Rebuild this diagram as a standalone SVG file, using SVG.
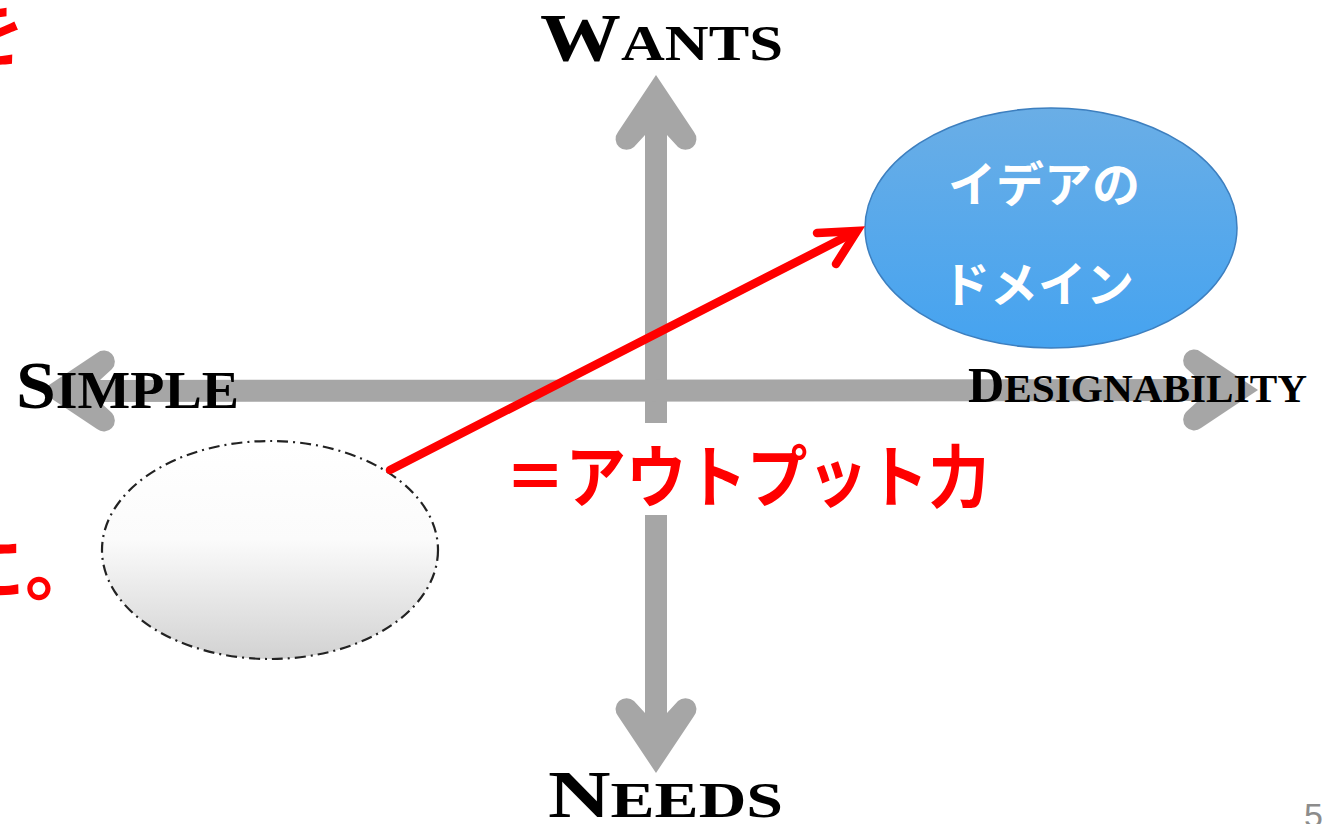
<svg xmlns="http://www.w3.org/2000/svg" width="1325" height="824" viewBox="0 0 1325 824">
  <style>
    .shaft { stroke: #a6a6a6; stroke-width: 22; fill: none; stroke-linecap: butt; }
    .head { fill: #a6a6a6; stroke: none; }
    .axis { font-family: "Liberation Serif", "DejaVu Serif", serif; font-weight: bold; fill: #000; }
    .jp { font-family: "Noto Sans CJK JP", "Noto Sans", sans-serif; font-weight: bold; }
    .red { fill: #ff0000; }
    .redline { stroke: #ff0000; stroke-width: 8.5; fill: none; stroke-linecap: round; stroke-linejoin: miter; }
  </style>
  <defs>
    <linearGradient id="gGray" x1="0" y1="0" x2="0" y2="1">
      <stop offset="0" stop-color="#ffffff"/>
      <stop offset="0.45" stop-color="#fbfbfb"/>
      <stop offset="1" stop-color="#d2d2d2"/>
    </linearGradient>
    <linearGradient id="gBlue" x1="0" y1="0" x2="0" y2="1">
      <stop offset="0" stop-color="#6aaee6"/>
      <stop offset="1" stop-color="#45a3f0"/>
    </linearGradient>
    <path id="ahead" class="head" d="M0,0 L38,57 A11,11 0 0 1 22,72 L11,60 L11,80 L-11,80 L-11,60 L-22,72 A11,11 0 0 1 -38,57 Z"/>
  </defs>

  <rect width="1325" height="824" fill="#ffffff"/>

  <!-- cropped side text -->
  <g id="side-text" class="jp red">
    <text x="-47" y="60" font-size="72">を</text>
    <text x="-47" y="594" font-size="72">に。</text>
  </g>

  <!-- axes -->
  <g id="connectors">
    <line class="shaft" x1="656" y1="140" x2="656" y2="423"/>
    <line class="shaft" x1="656" y1="515" x2="656" y2="708"/>
    <line class="shaft" x1="100" y1="391" x2="1200" y2="390"/>
    <use href="#ahead" transform="translate(656,75)"/>
    <use href="#ahead" transform="translate(656,773) rotate(180)"/>
    <use href="#ahead" transform="translate(40,391) rotate(-90)"/>
    <use href="#ahead" transform="translate(1258,390) rotate(90)"/>
  </g>

  <g id="node-gray">
    <ellipse cx="270" cy="550" rx="168" ry="109" fill="url(#gGray)" stroke="#222" stroke-width="2.2" stroke-dasharray="11 5 2 5"/>
  </g>

  <g id="node-blue">
    <ellipse cx="1051" cy="228" rx="186" ry="120" fill="url(#gBlue)" stroke="#3d7fbf" stroke-width="1.5"/>
    <text class="jp" x="1044" y="202" font-size="48" fill="#ffffff" text-anchor="middle">イデアの</text>
    <text class="jp" x="1038" y="302" font-size="48" fill="#ffffff" text-anchor="middle">ドメイン</text>
  </g>

  <g id="red-arrow">
    <line class="redline" x1="390" y1="470" x2="855" y2="232"/>
    <path class="redline" d="M817,233 L857,231 L836,264"/>
  </g>

  <g id="output-label">
    <text class="jp red" x="505" y="502" font-size="68" textLength="484" lengthAdjust="spacingAndGlyphs">＝アウトプット力</text>
  </g>

  <g id="label-wants">
    <text class="axis" x="540" y="60" textLength="243" lengthAdjust="spacingAndGlyphs"><tspan font-size="68">W</tspan><tspan font-size="51">ANTS</tspan></text>
  </g>
  <g id="label-needs">
    <text class="axis" x="548" y="817" textLength="235" lengthAdjust="spacingAndGlyphs"><tspan font-size="67">N</tspan><tspan font-size="51">EEDS</tspan></text>
  </g>
  <g id="label-simple">
    <text class="axis" x="16" y="408" textLength="223" lengthAdjust="spacingAndGlyphs"><tspan font-size="68">S</tspan><tspan font-size="53">IMPLE</tspan></text>
  </g>
  <g id="label-designability">
    <text class="axis" x="968" y="402" textLength="339" lengthAdjust="spacingAndGlyphs"><tspan font-size="50">D</tspan><tspan font-size="41">ESIGNABILITY</tspan></text>
  </g>

  <g id="page-number">
    <text x="1304" y="827" font-family="Liberation Sans, Arial, sans-serif" font-size="34" fill="#8c8c8c">5</text>
  </g>
</svg>
